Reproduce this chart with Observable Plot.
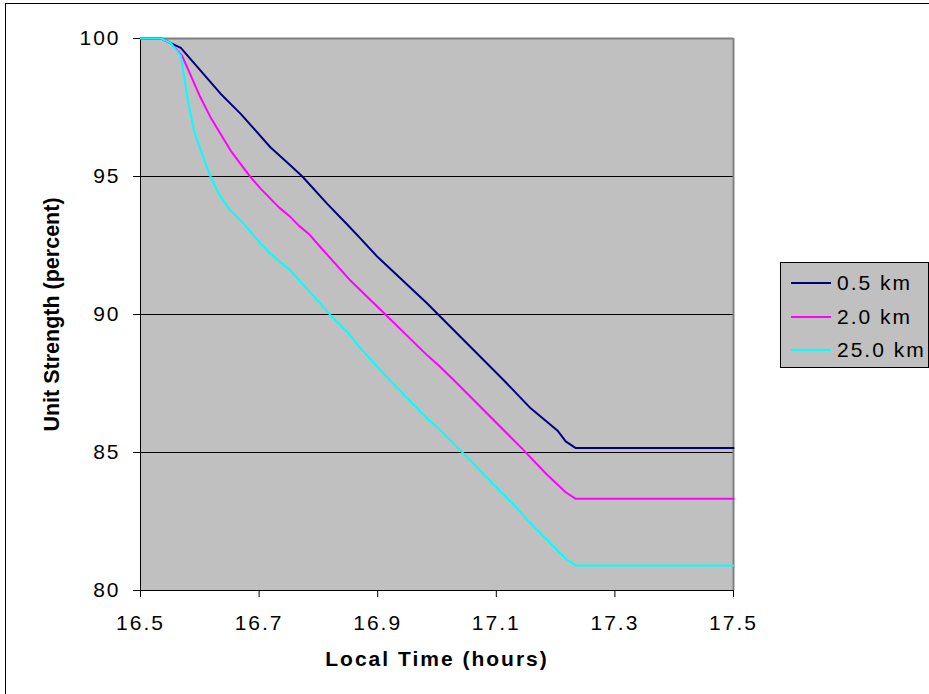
<!DOCTYPE html>
<html>
<head>
<meta charset="utf-8">
<script src="https://cdn.jsdelivr.net/npm/d3@7"></script>
<script src="https://cdn.jsdelivr.net/npm/@observablehq/plot@0.6"></script>
<style>
  html, body { margin: 0; padding: 0; background: white; overflow: hidden; }
  #wrap { position: relative; width: 929px; height: 694px; }
  #border { position: absolute; left: 5px; top: 3px; width: 1000px; height: 1000px; border: 1px solid black; box-sizing: border-box; pointer-events: none; }
  #legend { position: absolute; left: 780px; top: 262px; width: 149px; height: 106px; border: 1px solid black; box-sizing: border-box; background: #c0c0c0; font-family: 'Liberation Sans', Arial, sans-serif; font-size: 21px; letter-spacing: 2px; }
  .row { position: absolute; left: 0; height: 24px; }
  .sw { position: absolute; left: 10px; width: 40px; height: 0; border-top: 2px solid; }
  .lb { position: absolute; left: 56px; white-space: nowrap; line-height: 24px; }
</style>
</head>
<body>
<div id="wrap">
  <div id="chart"></div>
  <div id="border"></div>
  <div id="legend"></div>
</div>
<script>
// Series names and colours
const seriesNames = ["0.5 km", "2.0 km", "25.0 km"];
const seriesColors = ["#000080", "#ff00ff", "#00ffff"];

// 0.5 km
const t05 = [16.5, 16.535, 16.551, 16.568, 16.635, 16.669, 16.719, 16.753, 16.773, 16.815, 16.849, 16.868, 16.900, 16.984, 17.002, 17.113, 17.158, 17.203, 17.217, 17.234, 17.5];
const v05 = [100, 100, 99.83, 99.66, 98.0, 97.27, 96.06, 95.4, 95.0, 94.01, 93.25, 92.82, 92.08, 90.39, 90.0, 87.61, 86.6, 85.8, 85.4, 85.16, 85.16];

// 2.0 km
const t20 = [16.5, 16.535, 16.551, 16.570, 16.601, 16.618, 16.652, 16.669, 16.686, 16.703, 16.733, 16.753, 16.767, 16.784, 16.801, 16.854, 16.913, 16.984, 17.003, 17.029, 17.144, 17.184, 17.217, 17.234, 17.5];
const v20 = [100, 100, 99.83, 99.38, 97.87, 97.15, 95.94, 95.45, 94.97, 94.55, 93.89, 93.53, 93.22, 92.92, 92.5, 91.23, 90.0, 88.51, 88.15, 87.61, 85.13, 84.23, 83.56, 83.32, 83.32];

// 25.0 km
const t250 = [16.5, 16.535, 16.551, 16.568, 16.579, 16.590, 16.604, 16.618, 16.632, 16.649, 16.669, 16.703, 16.719, 16.753, 16.801, 16.821, 16.849, 16.874, 16.913, 16.984, 17.003, 17.043, 17.136, 17.153, 17.217, 17.234, 17.5];
const v250 = [100, 100, 99.83, 99.38, 97.87, 96.67, 95.8, 95.0, 94.37, 93.83, 93.41, 92.56, 92.2, 91.59, 90.45, 89.96, 89.36, 88.70, 87.79, 86.22, 85.86, 85.0, 82.96, 82.54, 81.15, 80.91, 80.91];

// Axis ticks
const xTicks = [16.5, 16.7, 16.9, 17.1, 17.3, 17.5];
const yTicks = [80, 85, 90, 95, 100];
const gridValues = [85, 90, 95];

const seriesT = [t05, t20, t250];
const seriesV = [v05, v20, v250];
const rows = seriesNames.flatMap((name, k) => seriesT[k].map((t, i) => ({series: name, t, v: seriesV[k][i]})));

const chart = Plot.plot({
  width: 929,
  height: 694,
  marginLeft: 140,
  marginRight: 196,
  marginTop: 38,
  marginBottom: 104,
  style: {background: "white", fontFamily: "'Liberation Sans', Arial, sans-serif", fontSize: "21px", letterSpacing: "2px", color: "black", overflow: "visible"},
  x: {domain: [16.5, 17.5]},
  y: {domain: [80, 100]},
  color: {domain: seriesNames, range: seriesColors},
  marks: [
    Plot.frame({fill: "#c0c0c0", stroke: null}),
    Plot.ruleY(gridValues, {stroke: "black", strokeWidth: 1}),
    Plot.ruleY([100], {stroke: "#808080", strokeWidth: 2}),
    Plot.ruleX([17.5], {stroke: "#808080", strokeWidth: 2}),
    Plot.ruleX([16.5], {stroke: "black", strokeWidth: 1}),
    Plot.ruleY([80], {stroke: "black", strokeWidth: 1}),
    Plot.line(rows, {x: "t", y: "v", z: "series", stroke: "series", strokeWidth: 2, curve: "linear"}),
    Plot.axisX({ticks: xTicks, tickFormat: d => d.toFixed(1), tickSize: 7, tickPadding: 18, label: null, stroke: "black", fill: "black"}),
    Plot.axisY({ticks: yTicks, tickFormat: d => String(d), tickSize: 7, tickPadding: 13, label: null, stroke: "black", fill: "black"}),
    Plot.text(["Local Time (hours)"], {frameAnchor: "bottom", textAnchor: "middle", dy: 75, fontWeight: "bold", fontSize: 21, fill: "black"}),
    Plot.text(["Unit Strength (percent)"], {frameAnchor: "left", textAnchor: "middle", rotate: -90, dx: -88, fontWeight: "bold", fontSize: 21.5, fill: "black"})
  ]
});
// the rotated y label is not letter-spaced in the reference
d3.select(chart).selectAll("text")
  .filter(function() { return this.textContent.startsWith("Unit Strength"); })
  .style("letter-spacing", "0px");
document.getElementById("chart").appendChild(chart);

// Legend
const legend = document.getElementById("legend");
const rowTops = [20, 54, 87];
seriesNames.forEach((name, k) => {
  const r = document.createElement("div");
  r.className = "row";
  r.style.top = (rowTops[k] - 12) + "px";
  r.innerHTML = `<div class="sw" style="top:11px;border-color:${seriesColors[k]}"></div><div class="lb">${name}</div>`;
  legend.appendChild(r);
});
</script>
</body>
</html>
